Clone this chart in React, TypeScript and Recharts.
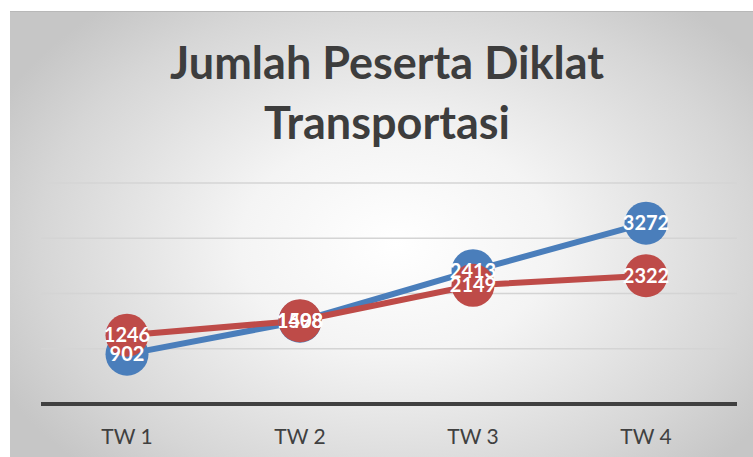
import React from "react";
import { LineChart, Line, XAxis, YAxis, CartesianGrid, LabelList } from "recharts";

const categories = ["TW 1", "TW 2", "TW 3", "TW 4"];
const seriesBlue = [902, 1498, 2413, 3272];
const seriesRed = [1246, 1508, 2149, 2322];
const yTicks = [0, 1000, 2000, 3000, 4000];

const data = categories.map((c, i) => ({ name: c, blue: seriesBlue[i], red: seriesRed[i] }));

const BLUE = "#4A7EBB";
const RED = "#BE4B48";

const makeDot = (color: string) => (props: any) => {
  const { cx, cy, index } = props;
  if (cx == null || cy == null) return <g key={index} />;
  return <circle key={index} cx={cx} cy={cy} r={21.5} fill={color} stroke="none" />;
};

const labelStyle = { fill: "#ffffff", fontSize: 20, fontWeight: 700, fontFamily: "Lato, 'Open Sans', sans-serif" };

export default function App() {
  return (
    <div
      style={{
        position: "absolute",
        left: 10,
        top: 11,
        width: 743,
        height: 446,
        background: "radial-gradient(ellipse 60% 70% at 52% 52%, #ffffff 0%, #f4f4f4 35%, #d6d6d6 80%, #c6c6c6 100%)",
        borderTop: "1px solid #b8b8b8",
        overflow: "hidden",
      }}
    >
      <div
        style={{
          position: "absolute",
          left: 0,
          top: 20,
          width: 754,
          textAlign: "center",
          fontFamily: "Lato, 'Open Sans', sans-serif",
          fontWeight: 700,
          fontSize: 45,
          lineHeight: "60px",
          color: "#3d3d3d",
        }}
      >
        Jumlah Peserta Diklat
        <br />
        Transportasi
      </div>
      <div style={{ position: "absolute", left: 0, top: 0 }}>
        <LineChart width={743} height={446} data={data} margin={{ top: 171, right: 16, bottom: 24, left: 31 }}>
          <CartesianGrid horizontal vertical={false} stroke="#d4d4d4" strokeWidth={1.5} />
          <YAxis hide domain={[0, 4000]} ticks={yTicks} />
          <XAxis
            dataKey="name"
            height={30}
            padding={{ left: 86, right: 91 }}
            axisLine={{ stroke: "#404040", strokeWidth: 4 }}
            tickLine={false}
            tickMargin={19}
            tick={{ fill: "#404040", fontSize: 21, fontFamily: "Lato, 'Open Sans', sans-serif" }}
          />
          <Line dataKey="blue" stroke={BLUE} strokeWidth={6} dot={makeDot(BLUE)} activeDot={false} isAnimationActive={false} />
          <Line dataKey="red" stroke={RED} strokeWidth={6} dot={makeDot(RED)} activeDot={false} isAnimationActive={false} />
          <Line dataKey="blue" stroke="none" dot={false} activeDot={false} isAnimationActive={false}>
            <LabelList dataKey="blue" position="center" style={labelStyle} />
          </Line>
          <Line dataKey="red" stroke="none" dot={false} activeDot={false} isAnimationActive={false}>
            <LabelList dataKey="red" position="center" style={labelStyle} />
          </Line>
        </LineChart>
      </div>
    </div>
  );
}
